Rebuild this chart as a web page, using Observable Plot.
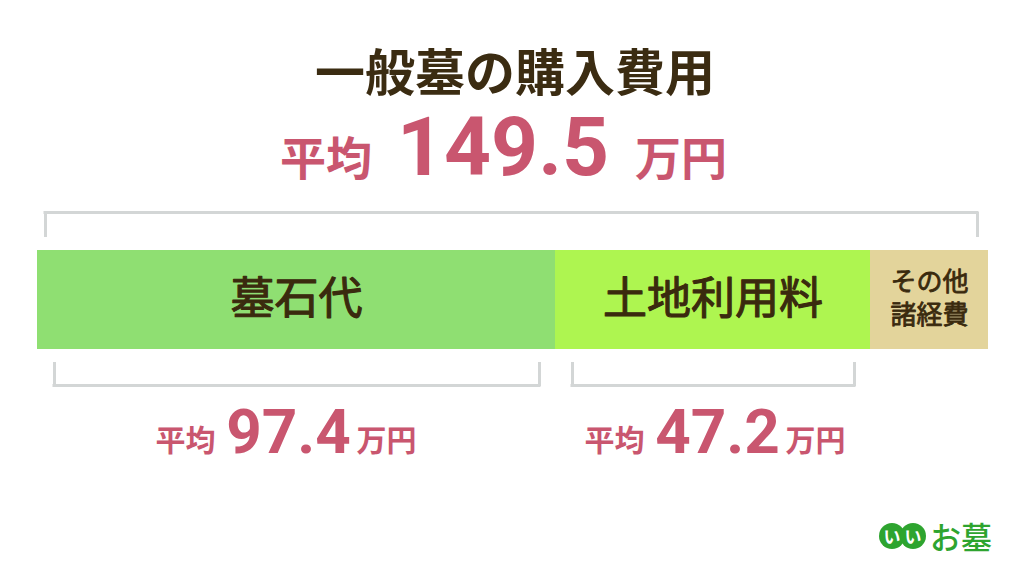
<!DOCTYPE html>
<html><head><meta charset="utf-8">
<script src="https://cdn.jsdelivr.net/npm/d3@7"></script>
<script src="https://cdn.jsdelivr.net/npm/@observablehq/plot@0.6"></script>
<style>
body{margin:0;background:#fff;}
#wrap{position:relative;width:1024px;height:576px;overflow:hidden;font-family:"Noto Sans CJK JP",sans-serif;background:#fff;}
#chart{position:absolute;left:0;top:0;}
#title{position:absolute;left:0;width:1030px;top:44px;text-align:center;font-size:50px;font-weight:700;color:#3b2c12;line-height:1;white-space:nowrap;}
#total{position:absolute;left:0;width:1007px;top:106px;text-align:center;color:#c9566f;font-weight:700;white-space:nowrap;line-height:1;}
#total .jp{font-size:46px;}
#total .num{font-family:Roboto,sans-serif;font-size:82px;margin:0 26px 0 25px;}
#logo{position:absolute;left:879px;top:520px;display:flex;align-items:center;white-space:nowrap;}
#logo .c{display:inline-block;width:26px;height:26px;border-radius:50%;background:#2ea42f;color:#fff;font-size:17px;font-weight:700;text-align:center;line-height:25px;}
#logo .c + .c{margin-left:-5px;}
#logo .t{color:#2ea42f;font-size:31px;font-weight:500;margin-left:4px;line-height:1;}
</style>
</head><body>
<div id="wrap">
  <div id="title"></div>
  <div id="total"></div>
  <div id="chart"></div>
  <div id="logo"><span class="c">い</span><span class="c">い</span><span class="t">お墓</span></div>
</div>
<script>
// ---- data ----
const titleText = "一般墓の購入費用";
const categories = ["墓石代", "土地利用料", "その他諸経費"];
const categoryLines = [["墓石代"], ["土地利用料"], ["その他", "諸経費"]];
const values = [97.4, 47.2, 4.9];          // 万円 (その他 estimated)
const totalValue = 149.5;                   // 万円
const barColors = ["#8fdf72", "#aef550", "#e3d49b"];
const labelledCategories = ["墓石代", "土地利用料"]; // categories with an average shown below
const avgPrefix = "平均";
const unitText = "万円";

// ---- header ----
document.getElementById("title").textContent = titleText;
document.getElementById("total").innerHTML =
  `<span class="jp">${avgPrefix}</span><span class="num">${totalValue.toFixed(1)}</span><span class="jp">${unitText}</span>`;

// ---- segments (stack) ----
const ends = Array.from(d3.cumsum(values));
const segs = categories.map((c, i) => ({
  category: c,
  lines: categoryLines[i],
  value: values[i],
  x1: i === 0 ? 0 : ends[i - 1],
  x2: ends[i],
  mid: ((i === 0 ? 0 : ends[i - 1]) + ends[i]) / 2,
  color: barColors[i]
}));
const big = segs.filter(d => d.lines.length === 1);
const small = segs.filter(d => d.lines.length > 1);
const shown = segs.filter(d => labelledCategories.includes(d.category));
const whole = [{x1: 0, x2: ends[ends.length - 1]}];

const W = 1024, H = 576;
const mL = 37, mR = 36, mT = 250, mB = 227;
const grey = "#d3d6d6";
const pink = "#c9566f";
const ink = "#3a2a0e";
const nudge = [-8, 4.5]; // hand placement of the average labels in the original

const bracketMarks = [
  // top bracket over the whole bar
  Plot.barX(whole, {x1: "x1", x2: "x2", insetTop: -39, insetBottom: 135, insetLeft: 6.5, insetRight: 9.5, fill: grey}),
  Plot.ruleX(whole, {x: "x1", dx: 8, insetTop: -38, insetBottom: 112, stroke: grey, strokeWidth: 3}),
  Plot.ruleX(whole, {x: "x2", dx: -11, insetTop: -38, insetBottom: 112, stroke: grey, strokeWidth: 3}),
  // bottom brackets under the labelled segments
  Plot.barX(shown, {x1: "x1", x2: "x2", insetTop: 134, insetBottom: -38, insetLeft: 15.5, insetRight: 14.5, fill: grey}),
  Plot.ruleX(shown, {x: "x1", dx: 17, insetTop: 112, insetBottom: -37, stroke: grey, strokeWidth: 3}),
  Plot.ruleX(shown, {x: "x2", dx: -16, insetTop: 112, insetBottom: -37, stroke: grey, strokeWidth: 3})
];

const averageMarks = shown.flatMap((d, i) => [
  Plot.text([d], {x: "mid", text: d => d.value.toFixed(1), dx: nudge[i], dy: 133, fontSize: 62, fontWeight: 700, fill: pink, fontFamily: "Roboto, sans-serif"}),
  Plot.text([d], {x: "mid", text: () => avgPrefix, textAnchor: "end", dx: nudge[i] - 60 - 13, dy: 141, fontSize: 30, fontWeight: 700, fill: pink}),
  Plot.text([d], {x: "mid", text: () => unitText, textAnchor: "start", dx: nudge[i] + 60 + 8, dy: 141, fontSize: 30, fontWeight: 700, fill: pink})
]);

// medium-weight look: regular glyphs with a thin outline of the same ink
const labelStyle = {fontWeight: 400, fill: ink, stroke: ink, strokeWidth: 1.1, paintOrder: "stroke"};

const chart = Plot.plot({
  width: W, height: H,
  marginLeft: mL, marginRight: mR, marginTop: mT, marginBottom: mB,
  style: {background: "transparent", fontFamily: "'Noto Sans CJK JP', sans-serif"},
  // infographic-style piecewise scale (segment widths are not proportional in the original)
  x: {type: "linear", axis: null, domain: [0, ...ends], range: [mL, mL + 518, mL + 833, W - mR]},
  marks: [
    Plot.barX(segs, {x1: "x1", x2: "x2", fill: "color"}),
    Plot.text(big, {x: "mid", text: "category", fontSize: 44, ...labelStyle}),
    Plot.text(small, {x: "mid", text: d => d.lines[0], dy: -17, fontSize: 26, ...labelStyle, strokeWidth: 0.8}),
    Plot.text(small, {x: "mid", text: d => d.lines[1], dy: 16, fontSize: 26, ...labelStyle, strokeWidth: 0.8}),
    ...bracketMarks,
    ...averageMarks
  ]
});
document.getElementById("chart").appendChild(chart);
</script>
</body></html>
